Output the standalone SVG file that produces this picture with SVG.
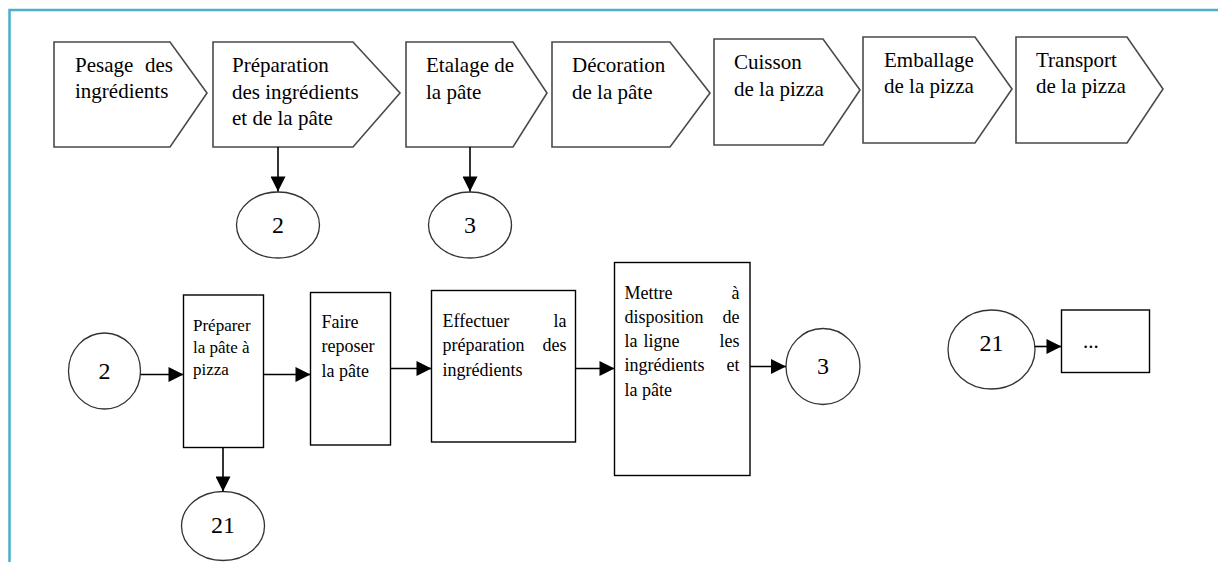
<svg xmlns="http://www.w3.org/2000/svg" width="1218" height="562" viewBox="0 0 1218 562">
  <defs>
    <marker id="arrow" viewBox="0 0 10 10" refX="10" refY="5" markerWidth="16" markerHeight="15" markerUnits="userSpaceOnUse" orient="auto">
      <path d="M0,0 L10,5 L0,10 Z" fill="#000"/>
    </marker>
    <style>
      .frame { fill: none; stroke: #4bafc8; stroke-width: 2.5; }
      .step { fill: #fff; stroke: #4a4a4a; stroke-width: 1.6; }
      .box { fill: #fff; stroke: #000; stroke-width: 1.4; }
      .conn { fill: #fff; stroke: #333; stroke-width: 1.3; }
      .edge { fill: none; stroke: #000; stroke-width: 1.6; marker-end: url(#arrow); }
      text { font-family: "Liberation Serif", "Times New Roman", serif; fill: #000; }
      .t21 { font-size: 21px; }
      .t17 { font-size: 17px; }
      .t18 { font-size: 18px; }
      .num { font-size: 24px; text-anchor: middle; }
    </style>
  </defs>

  <!-- page frame -->
  <path class="frame" d="M9.5,562 L9.5,10 L1218,10"/>

  <!-- top process chain -->
  <g id="step-pesage">
    <path class="step" d="M54,42 L170,42 L207,93 L170,147 L54,147 Z"/>
    <text class="t21" x="75" y="72">Pesage</text>
    <text class="t21" x="173" y="72" text-anchor="end">des</text>
    <text class="t21" x="75" y="98">ingrédients</text>
  </g>
  <g id="step-preparation">
    <path class="step" d="M213,42 L353,42 L400,93 L353,147 L213,147 Z"/>
    <text class="t21" x="232" y="72">Préparation</text>
    <text class="t21" x="232" y="99">des ingrédients</text>
    <text class="t21" x="232" y="125">et de la pâte</text>
  </g>
  <g id="step-etalage">
    <path class="step" d="M406,42 L513,42 L547,93 L513,147 L406,147 Z"/>
    <text class="t21" x="426" y="72">Etalage de</text>
    <text class="t21" x="426" y="99">la pâte</text>
  </g>
  <g id="step-decoration">
    <path class="step" d="M552,42 L670,42 L710,93 L670,147 L552,147 Z"/>
    <text class="t21" x="572" y="72">Décoration</text>
    <text class="t21" x="572" y="99">de la pâte</text>
  </g>
  <g id="step-cuisson">
    <path class="step" d="M714,39 L823,39 L860,90 L823,145 L714,145 Z"/>
    <text class="t21" x="734" y="69">Cuisson</text>
    <text class="t21" x="734" y="96">de la pizza</text>
  </g>
  <g id="step-emballage">
    <path class="step" d="M863,37 L975,37 L1012,89 L975,143 L863,143 Z"/>
    <text class="t21" x="884" y="67">Emballage</text>
    <text class="t21" x="884" y="93">de la pizza</text>
  </g>
  <g id="step-transport">
    <path class="step" d="M1016,37 L1127,37 L1163,89 L1127,143 L1016,143 Z"/>
    <text class="t21" x="1036" y="67">Transport</text>
    <text class="t21" x="1036" y="93">de la pizza</text>
  </g>

  <!-- off-page connectors under the chain -->
  <g id="conn-2-top">
    <ellipse class="conn" cx="278" cy="225" rx="41.5" ry="33"/>
    <text class="num" x="278" y="233">2</text>
  </g>
  <g id="conn-3-top">
    <ellipse class="conn" cx="470" cy="225" rx="41.5" ry="33"/>
    <text class="num" x="470" y="233">3</text>
  </g>

  <!-- detail of step 2 -->
  <g id="conn-2-start">
    <ellipse class="conn" cx="104.5" cy="371" rx="36" ry="38"/>
    <text class="num" x="104.5" y="379">2</text>
  </g>
  <g id="task-preparer">
    <rect class="box" x="183.5" y="295" width="80" height="152.5"/>
    <text class="t17" x="193" y="331">Préparer</text>
    <text class="t17" x="193" y="353">la pâte à</text>
    <text class="t17" x="193" y="375">pizza</text>
  </g>
  <g id="task-reposer">
    <rect class="box" x="310.5" y="292.5" width="80" height="152.5"/>
    <text class="t18" x="321.5" y="328">Faire</text>
    <text class="t18" x="321.5" y="352">reposer</text>
    <text class="t18" x="321.5" y="377">la pâte</text>
  </g>
  <g id="task-effectuer">
    <rect class="box" x="431.5" y="290.5" width="144" height="151.5"/>
    <text class="t18" x="442.5" y="327">Effectuer</text>
    <text class="t18" x="566.5" y="327" text-anchor="end">la</text>
    <text class="t18" x="442.5" y="351">préparation</text>
    <text class="t18" x="566.5" y="351" text-anchor="end">des</text>
    <text class="t18" x="442.5" y="376">ingrédients</text>
  </g>
  <g id="task-mettre">
    <rect class="box" x="614.5" y="262.5" width="135.5" height="213"/>
    <text class="t18" x="624.5" y="299">Mettre</text>
    <text class="t18" x="739.5" y="299" text-anchor="end">à</text>
    <text class="t18" x="624.5" y="323">disposition</text>
    <text class="t18" x="739.5" y="323" text-anchor="end">de</text>
    <text class="t18" x="624.5" y="347">la</text>
    <text class="t18" x="643.5" y="347">ligne</text>
    <text class="t18" x="739.5" y="347" text-anchor="end">les</text>
    <text class="t18" x="624.5" y="371">ingrédients</text>
    <text class="t18" x="739.5" y="371" text-anchor="end">et</text>
    <text class="t18" x="624.5" y="396">la pâte</text>
  </g>
  <g id="conn-3-end">
    <ellipse class="conn" cx="823" cy="366.5" rx="37" ry="38"/>
    <text class="num" x="823" y="374">3</text>
  </g>
  <g id="conn-21-bottom">
    <ellipse class="conn" cx="223" cy="526" rx="41.5" ry="34.5"/>
    <text class="num" x="223" y="533">21</text>
  </g>

  <!-- continuation 21 -->
  <g id="conn-21-start">
    <ellipse class="conn" cx="991.5" cy="349.5" rx="43.5" ry="39.5"/>
    <text class="num" x="991.5" y="351">21</text>
  </g>
  <g id="task-more">
    <rect class="box" x="1061.5" y="310" width="88" height="62.5"/>
    <text class="t21" x="1083" y="348">...</text>
  </g>

  <!-- connectors -->
  <g id="connectors">
    <line class="edge" x1="278" y1="147" x2="278" y2="191.5"/>
    <line class="edge" x1="470" y1="147" x2="470" y2="191.5"/>
    <line class="edge" x1="140.5" y1="374.5" x2="183.5" y2="374.5"/>
    <line class="edge" x1="263.5" y1="374.5" x2="310.5" y2="374.5"/>
    <line class="edge" x1="390.5" y1="368.5" x2="431.5" y2="368.5"/>
    <line class="edge" x1="575.5" y1="368.5" x2="614.5" y2="368.5"/>
    <line class="edge" x1="750" y1="366.5" x2="786" y2="366.5"/>
    <line class="edge" x1="223" y1="447.5" x2="223" y2="491.5"/>
    <line class="edge" x1="1035" y1="346.5" x2="1061.5" y2="346.5"/>
  </g>
</svg>
